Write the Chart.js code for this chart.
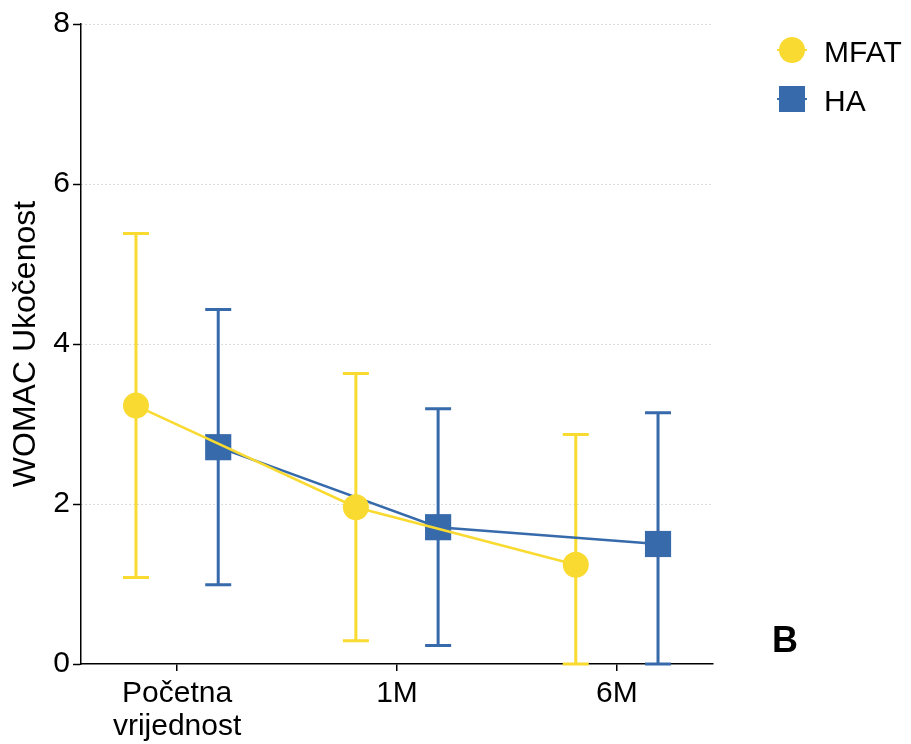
<!DOCTYPE html>
<html>
<head>
<meta charset="utf-8">
<script src="https://cdn.jsdelivr.net/npm/chart.js@4"></script>
<style>
  html, body { margin: 0; padding: 0; background: #fff; }
</style>
</head>
<body>
<canvas id="c" width="911" height="744"></canvas>
<script>
// data (mean ± SD)
const categories = [['Početna', 'vrijednost'], '1M', '6M'];
const seriesNames = ['MFAT', 'HA'];
const mfatMean = [3.23, 1.96, 1.24];
const mfatSd = [2.15, 1.67, 1.63];
const haMean = [2.71, 1.71, 1.50];
const haSd = [1.72, 1.48, 1.64];
const yTicks = [0, 2, 4, 6, 8];
const yTitle = 'WOMAC Ukočenost';
const panelLabel = 'B';

const YELLOW = '#F9DA30';
const BLUE = '#376AAB';
const FONT = '"Liberation Sans", Arial, Helvetica, sans-serif';
const SHIFT = 0.187; // side-by-side offset around each category

function toPoints(means, shift) {
  return means.map((v, i) => ({ x: i + shift, y: v }));
}

// vertical SD whiskers with caps, clipped at the axis
const errorBars = {
  id: 'errorBars',
  beforeDatasetsDraw(chart) {
    const { ctx, scales: { x, y } } = chart;
    const sets = chart.data.datasets.slice().reverse();
    sets.forEach(ds => {
      ctx.save();
      ctx.strokeStyle = ds.borderColor;
      ctx.lineWidth = 3;
      ds.data.forEach((p, i) => {
        const px = x.getPixelForValue(p.x);
        const lo = y.getPixelForValue(Math.max(y.min, p.y - ds.sd[i]));
        const hi = y.getPixelForValue(Math.min(y.max, p.y + ds.sd[i]));
        ctx.beginPath();
        ctx.moveTo(px, lo); ctx.lineTo(px, hi);
        ctx.moveTo(px - 13, lo); ctx.lineTo(px + 13, lo);
        ctx.moveTo(px - 13, hi); ctx.lineTo(px + 13, hi);
        ctx.stroke();
      });
      ctx.restore();
    });
  }
};

// legend at top right + panel letter
const sideText = {
  id: 'sideText',
  afterDraw(chart) {
    const { ctx } = chart;
    ctx.save();
    chart.data.datasets.forEach((ds, i) => {
      const cy = 50 + i * 49;
      const cx = 792;
      ctx.strokeStyle = ds.borderColor;
      ctx.lineWidth = 2;
      ctx.beginPath();
      ctx.moveTo(cx - 15, cy); ctx.lineTo(cx + 15, cy);
      ctx.stroke();
      ctx.fillStyle = ds.pointBackgroundColor;
      ctx.beginPath();
      if (ds.pointStyle === 'rect') {
        ctx.rect(cx - 13, cy - 13, 26, 26);
      } else {
        ctx.arc(cx, cy, 13, 0, Math.PI * 2);
      }
      ctx.fill();
      ctx.fillStyle = '#000';
      ctx.font = '30px ' + FONT;
      ctx.textBaseline = 'alphabetic';
      ctx.fillText(ds.label, 824, cy + 12);
    });
    ctx.font = 'bold 36px ' + FONT;
    ctx.fillText(panelLabel, 772, 652);
    ctx.restore();
  }
};

new Chart(document.getElementById('c'), {
  type: 'line',
  data: {
    datasets: [
      {
        label: seriesNames[0],
        data: toPoints(mfatMean, -SHIFT),
        sd: mfatSd,
        borderColor: YELLOW,
        backgroundColor: YELLOW,
        pointBackgroundColor: YELLOW,
        pointBorderColor: YELLOW,
        pointStyle: 'circle',
        pointRadius: 13,
        pointBorderWidth: 0,
        borderWidth: 2.5,
        tension: 0
      },
      {
        label: seriesNames[1],
        data: toPoints(haMean, SHIFT),
        sd: haSd,
        borderColor: BLUE,
        backgroundColor: BLUE,
        pointBackgroundColor: BLUE,
        pointBorderColor: BLUE,
        pointStyle: 'rect',
        pointRadius: 18.5,
        pointBorderWidth: 0,
        borderWidth: 2.5,
        tension: 0
      }
    ]
  },
  options: {
    responsive: false,
    animation: false,
    events: [],
    layout: { padding: { left: 0, right: 198, top: 24, bottom: 0 } },
    plugins: { legend: { display: false }, tooltip: { enabled: false } },
    scales: {
      x: {
        type: 'linear',
        min: -0.437,
        max: 2.437,
        afterBuildTicks: s => { s.ticks = categories.map((c, i) => ({ value: i })); },
        afterFit: s => { s.height = 80; },
        ticks: {
          color: '#000',
          font: { family: FONT, size: 30, lineHeight: 1.08 },
          padding: 7,
          maxRotation: 0,
          autoSkip: false,
          callback: v => categories[v]
        },
        grid: { drawOnChartArea: false, color: '#000', tickLength: 7, lineWidth: 1.5 },
        border: { color: '#000', width: 1.5 }
      },
      y: {
        min: 0,
        max: 8,
        afterBuildTicks: s => { s.ticks = yTicks.map(v => ({ value: v })); },
        afterFit: s => { s.width = 81; },
        ticks: {
          color: '#000',
          font: { family: FONT, size: 30 },
          padding: 3
        },
        grid: {
          color: c => (c.tick && c.tick.value === 0 ? 'rgba(0,0,0,0)' : '#c8c8c8'),
          lineWidth: 1,
          tickColor: '#000',
          tickLength: 8,
          tickWidth: 1.5
        },
        border: { color: '#000', width: 1.5, dash: [1.3, 2.7] },
        title: {
          display: true,
          text: yTitle,
          color: '#000',
          font: { family: FONT, size: 32 },
          padding: { top: 7, bottom: 0 }
        }
      }
    }
  },
  plugins: [errorBars, sideText]
});
</script>
</body>
</html>
